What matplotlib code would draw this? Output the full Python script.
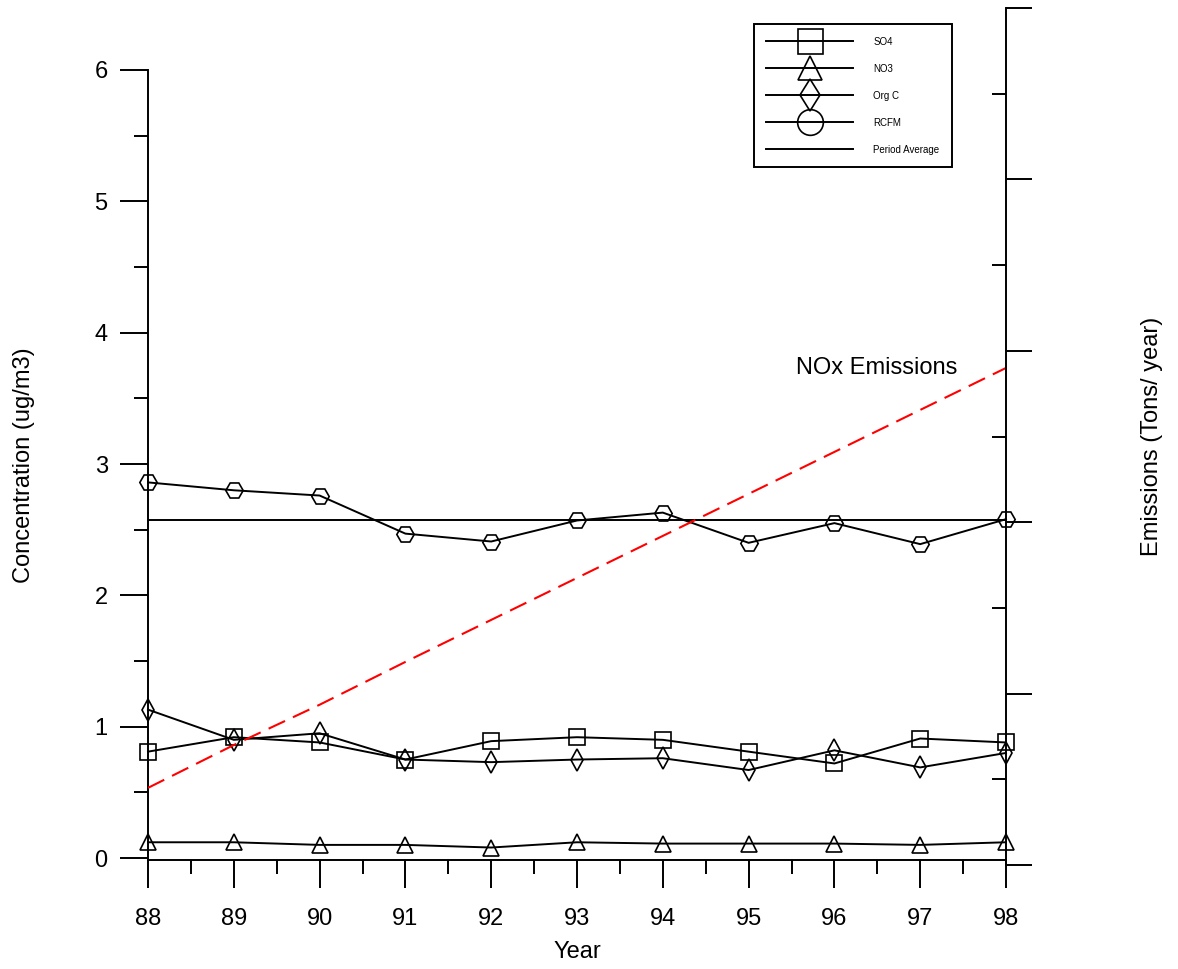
import matplotlib
matplotlib.use("Agg")
import matplotlib.pyplot as plt
from matplotlib.lines import Line2D
from matplotlib.ticker import MultipleLocator

plt.rcParams['font.family'] = ['Liberation Sans', 'DejaVu Sans']

years = [88, 89, 90, 91, 92, 93, 94, 95, 96, 97, 98]
so4 = [0.81, 0.92, 0.88, 0.75, 0.89, 0.92, 0.90, 0.81, 0.72, 0.91, 0.88]
no3 = [0.12, 0.12, 0.10, 0.10, 0.08, 0.12, 0.11, 0.11, 0.11, 0.10, 0.12]
orgc = [1.13, 0.90, 0.95, 0.75, 0.73, 0.75, 0.76, 0.67, 0.82, 0.69, 0.80]
rcfm = [2.86, 2.80, 2.76, 2.47, 2.41, 2.57, 2.63, 2.40, 2.55, 2.39, 2.58]
period_average = 2.57
nox = [9.0, 14.0, 18.7, 23.7, 28.6, 33.5, 38.4, 43.3, 48.2, 53.1, 58.0]
xtick_labels = ['88', '89', '90', '91', '92', '93', '94', '95', '96', '97', '98']

W, H = 1178, 969
fig = plt.figure(figsize=(W / 100, H / 100), dpi=100)

# main axes: x 148..1006 px, y 70..860 px
ax = fig.add_axes([148 / W, (H - 860) / H, (1006 - 148) / W, (860 - 70) / H])
# right axes: spine y 8..865 px
ax2 = fig.add_axes([148 / W, (H - 865) / H, (1006 - 148) / W, (865 - 8) / H])
ax2.patch.set_visible(False)

lw = 1.4
mew = 1.2
common = dict(color='black', lw=lw, mfc='none', mec='black', mew=mew, clip_on=False)
ax.plot(years, rcfm, marker='H', ms=12.5, **common)
ax.plot(years, so4, marker='s', ms=11, **common)
ax.plot(years, orgc, marker='d', ms=11, **common)
ax.plot(years, no3, marker='^', ms=12, **common)
ax.axhline(period_average, color='black', lw=lw)

ax.set_xlim(88, 98)
ax.set_ylim(-0.015, 6)
ax.set_xticks(years)
ax.set_xticklabels(xtick_labels)
ax.xaxis.set_minor_locator(MultipleLocator(0.5))
ax.set_yticks([0, 1, 2, 3, 4, 5, 6])
ax.yaxis.set_minor_locator(MultipleLocator(0.5))
ax.tick_params(axis='both', which='major', direction='out', length=20, width=1.4, labelsize=17, pad=9)
ax.tick_params(axis='x', which='major', pad=14.5)
ax.tick_params(axis='both', which='minor', direction='out', length=10, width=1.4)
for s in ['top', 'right']:
    ax.spines[s].set_visible(False)
for s in ['left', 'bottom']:
    ax.spines[s].set_linewidth(1.4)

ax.set_xlabel('Year', fontsize=17)
ax.xaxis.set_label_coords(0.5, -0.117)
ax.xaxis.label.set_va('center')
ax.set_ylabel('Concentration (ug/m3)', fontsize=17)
ax.yaxis.label.set_va('center')
ax.yaxis.set_label_coords(-0.145, 0.5)

# right emissions axis
ax2.plot(years, nox, color='#ff0000', lw=1.5, ls=(0, (8.7, 4.2)))
ax2.set_xlim(88, 98)
ax2.set_ylim(0, 100)
for s in ['top', 'left', 'bottom']:
    ax2.spines[s].set_visible(False)
ax2.spines['right'].set_linewidth(1.4)
ax2.xaxis.set_visible(False)
ax2.yaxis.tick_right()
ax2.set_yticks([0, 20, 40, 60, 80, 100])
ax2.set_yticks([10, 30, 50, 70, 90], minor=True)
ax2.tick_params(axis='y', which='major', direction='out', length=19, width=1.4, labelright=False)
ax2.tick_params(axis='y', which='minor', direction='in', length=10, width=1.4, labelright=False)
ax2.yaxis.set_label_position('right')
ax2.set_ylabel('Emissions (Tons/ year)', fontsize=17, rotation=90)
ax2.yaxis.label.set_va('center')
ax2.yaxis.set_label_coords(1.170, 0.5)
ax2.text(96.49, 58.0, 'NOx Emissions', fontsize=17, ha='center', va='center')

handles = [
    Line2D([], [], color='black', lw=lw, marker='s', ms=18, mfc='none', mec='black', mew=mew),
    Line2D([], [], color='black', lw=lw, marker='^', ms=17, mfc='none', mec='black', mew=mew),
    Line2D([], [], color='black', lw=lw, marker='d', ms=16.5, mfc='none', mec='black', mew=mew),
    Line2D([], [], color='black', lw=lw, marker='o', ms=18.5, mfc='none', mec='black', mew=mew),
    Line2D([], [], color='black', lw=lw),
]
labels = ['SO4', 'NO3', 'Org C', 'RCFM', 'Period Average']
leg = ax2.legend(handles, labels, loc='upper right', bbox_to_anchor=(952 / W, 1 - 24 / H),
                 bbox_transform=fig.transFigure, borderaxespad=0, fontsize=7,
                 handlelength=8.9, handletextpad=2.1, borderpad=1.3, labelspacing=1.75,
                 fancybox=False, framealpha=1, edgecolor='black')
leg.get_frame().set_linewidth(1.4)

fig.savefig('out.png', dpi=100)
